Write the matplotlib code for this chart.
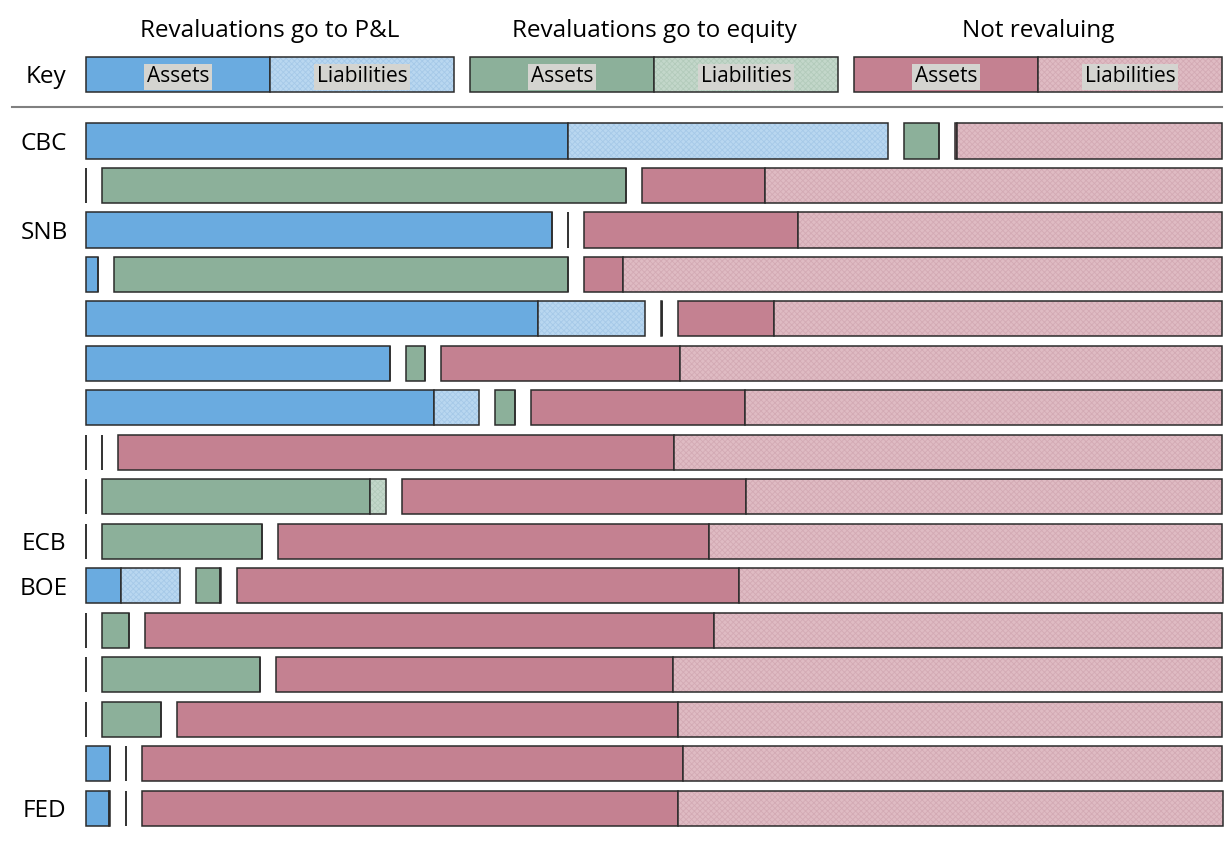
import numpy as np
import matplotlib
matplotlib.use("Agg")
import matplotlib.pyplot as plt

plt.rcParams['font.family'] = ['Open Sans', 'DejaVu Sans']
plt.rcParams['hatch.linewidth'] = 0.6

# share of each balance sheet (percent), one entry per row, top to bottom
row_labels = ["CBC", "", "SNB", "", "", "", "", "", "", "ECB", "BOE", "", "", "", "", "FED"]
pl_assets = [43.7, 0, 42.2, 1.1, 40.9, 27.5, 31.5, 0, 0, 0, 3.2, 0, 0, 0, 2.2, 2.1]
pl_liabs = [28.9, 0, 0, 0, 9.7, 0, 4.1, 0, 0, 0, 5.3, 0, 0, 0, 0, 0.05]
eq_assets = [3.2, 47.5, 0, 41.1, 0.15, 1.8, 1.8, 0, 24.3, 14.5, 2.2, 2.4, 14.3, 5.3, 0, 0]
eq_liabs = [0, 0, 0, 0, 0, 0, 0, 0, 1.4, 0, 0.05, 0, 0, 0, 0, 0]
nr_assets = [0.2, 11.1, 19.4, 3.5, 8.7, 21.6, 19.4, 50.4, 31.2, 39.0, 45.5, 51.6, 36.0, 45.4, 49.0, 48.6]
nr_liabs = [24.0, 41.4, 38.4, 54.3, 40.55, 49.1, 43.2, 49.6, 43.1, 46.5, 43.8, 46.0, 49.7, 49.3, 48.8, 49.3]

group_titles = ["Revaluations go to P&L", "Revaluations go to equity", "Not revaluing"]
key_parts = ["Assets", "Liabilities"]

colors = {
    "pl": ("#6aabe0", "#b9d7f0"),
    "eq": ("#8cb09a", "#c3d7ca"),
    "nr": ("#c48191", "#dfbbc3"),
}
hatch_col = {"pl": "#a6c9e8", "eq": "#b3cbbb", "nr": "#d3aab4"}
edge = "#2b2b2b"
GAP = 1.45
H = 0.79


def seg(ax, y, left, width, face, hatch=None, hcol=None):
    if hatch:
        ax.barh(y, width, left=left, height=H, color=face, hatch=hatch,
                edgecolor=hcol, linewidth=0)
        ax.barh(y, width, left=left, height=H, fill=False, edgecolor=edge, linewidth=1.1)
    else:
        ax.barh(y, width, left=left, height=H, color=face, edgecolor=edge, linewidth=1.1)


fig = plt.figure(figsize=(12.24, 8.42), dpi=100)
ax = fig.add_axes([0, 0, 1, 1])
ax.set_xlim(-7.79, 103.08)
ax.set_ylim(15.76, -3.17)
ax.axis("off")

groups = [("pl", pl_assets, pl_liabs), ("eq", eq_assets, eq_liabs), ("nr", nr_assets, nr_liabs)]
for i in range(len(row_labels)):
    left = 0
    for g, (key, a, l) in enumerate(groups):
        seg(ax, i, left, a[i], colors[key][0])
        seg(ax, i, left + a[i], l[i], colors[key][1], "xxxxxx", hatch_col[key])
        left += a[i] + l[i] + GAP
    if row_labels[i]:
        ax.text(-3.8, i, row_labels[i], ha="center", va="center_baseline", fontsize=17.5)

# key row
key_y = -1.5
w = 100 / 6
left = 0
for g, (key, a, l) in enumerate(groups):
    seg(ax, key_y, left, w, colors[key][0])
    seg(ax, key_y, left + w, w, colors[key][1], "xxxxxx", hatch_col[key])
    for k, name in enumerate(key_parts):
        ax.text(left + w * k + w / 2, key_y, name, ha="center", va="center_baseline", fontsize=15,
                bbox=dict(boxstyle="square,pad=0.12", fc="#d4d4d0", ec="none"))
    ax.text(left + w, -2.54, group_titles[g], ha="center", va="center_baseline", fontsize=17.5)
    left += 2 * w + GAP
ax.text(-3.6, key_y, "Key", ha="center", va="center_baseline", fontsize=17.5)

ax.plot([-6.7, 102.9], [-0.76, -0.76], color="#808080", linewidth=1.5, clip_on=False)

fig.savefig("out.png", dpi=100)
